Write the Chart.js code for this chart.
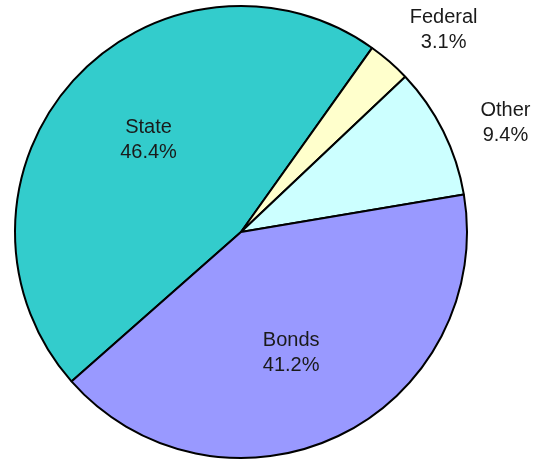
<!DOCTYPE html>
<html>
<head>
<meta charset="utf-8">
<script src="https://cdn.jsdelivr.net/npm/chart.js@4/dist/chart.umd.min.js"></script>
<style>
html,body{margin:0;padding:0;background:#fff;}
#wrap{width:537px;height:461px;}
</style>
</head>
<body>
<div id="wrap"><canvas id="c" width="537" height="461"></canvas></div>
<script>
const categories = ['State', 'Federal', 'Other', 'Bonds'];
const values = [46.4, 3.1, 9.4, 41.2];
const colors = ['#33CCCC', '#FFFFCC', '#CCFFFF', '#9999FF'];
const outsideLabels = ['Federal', 'Other'];

const labelPlugin = {
  id: 'sliceLabels',
  afterDatasetsDraw(chart) {
    const ctx = chart.ctx;
    const meta = chart.getDatasetMeta(0);
    ctx.save();
    ctx.font = '20px "Liberation Sans", Arial, sans-serif';
    ctx.fillStyle = '#1a1a1a';
    ctx.textAlign = 'center';
    ctx.textBaseline = 'middle';
    meta.data.forEach((arc, i) => {
      const p = arc.getProps(['x','y','startAngle','endAngle','outerRadius'], true);
      const outside = outsideLabels.includes(categories[i]);
      const shift = (outside ? 4.05 : 2.9) * Math.PI / 180;
      const mid = (p.startAngle + p.endAngle) / 2 + shift;
      const f = outside ? 1.266 : 0.578;
      const cx = p.x + Math.cos(mid) * p.outerRadius * f;
      const cy = p.y + Math.sin(mid) * p.outerRadius * f;
      ctx.fillText(categories[i], cx, cy - 12.5);
      ctx.fillText(values[i].toFixed(1) + '%', cx, cy + 12.5);
    });
    ctx.restore();
  }
};

new Chart(document.getElementById('c'), {
  type: 'pie',
  data: {
    labels: categories,
    datasets: [{
      data: values,
      backgroundColor: colors,
      borderColor: '#000',
      borderWidth: 2
    }]
  },
  options: {
    responsive: false,
    animation: false,
    rotation: 228.6,
    layout: { padding: { left: 0, right: 55, top: 5, bottom: 2 } },
    plugins: { legend: { display: false }, tooltip: { enabled: false } }
  },
  plugins: [labelPlugin]
});
</script>
</body>
</html>
